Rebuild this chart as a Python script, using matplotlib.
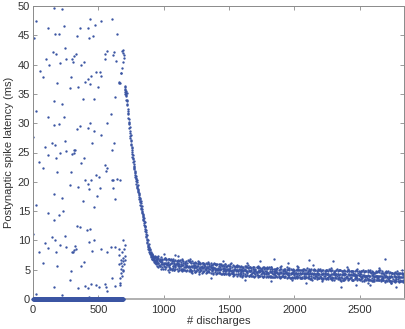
import numpy as np
import matplotlib
matplotlib.use("Agg")
import matplotlib.pyplot as plt

plt.rcParams['font.family'] = ['Liberation Sans', 'DejaVu Sans']

# early phase: scattered latencies (discharge index, latency ms)
scatter_x = [160, 224, 23, 438, 522, 604, 112, 237, 362, 420, 471, 166, 199, 336, 428, 456, 640, 8,
             245, 150, 176, 97, 120, 206, 252, 298, 306, 316, 326, 390, 369, 548, 566, 553, 617, 609,
             632, 51, 74, 484, 512, 518, 446, 290, 423, 400, 433, 183, 346, 280, 497, 624, 382, 466,
             158, 224, 23, 112, 235, 596, 163, 196, 359, 334, 438, 418, 466, 568, 522, 2, 145, 171,
             245, 453, 622, 94, 206, 250, 313, 324, 311, 298, 601, 117, 176, 388, 369, 48, 74, 548,
             566, 558, 183, 288, 479, 502, 397, 441, 420, 604, 612, 640, 667, 280, 346, 515, 430, 612,
             158, 492, 222, 629, 382, 23, 464, 232, 112, 199, 163, 334, 357, 436, 415, 2, 242, 145,
             171, 690, 469, 426, 94, 204, 250, 319, 326, 313, 303, 298, 594, 627, 655, 698, 520, 568,
             451, 48, 176, 117, 74, 388, 369, 181, 288, 601, 280, 441, 479, 502, 400, 418, 346, 548,
             556, 568, 624, 667, 158, 23, 222, 430,
             680, 686, 696, 688, 680, 675, 660, 655, 665, 690, 698, 670,
             657, 688, 703, 670, 690, 706, 657, 680, 696, 670, 686, 675, 667, 680, 692, 663, 684, 700, 672]
scatter_y = [49.7, 49.5, 47.5, 47.8, 47.5, 47.8, 46.2, 46.6, 46.3, 46.2, 46.8, 45.2, 45.3, 44.8, 44.5, 44.9, 45.3, 44.5,
             42.9, 42.1, 41.8, 41.0, 40.0, 40.3, 40.9, 40.9, 40.4, 41.5, 41.8, 40.4, 39.9, 41.8, 42.3, 41.0, 42.1, 41.6,
             40.6, 38.9, 37.8, 38.8, 38.7, 38.0, 38.1, 37.9, 37.5, 37.1, 36.7, 36.9, 36.2, 36.0, 36.1, 34.4, 34.2, 34.2,
             33.8, 33.3, 32.0, 31.0, 31.1, 31.5, 29.7, 29.9, 29.6, 29.0, 30.0, 29.2, 28.7, 30.0, 28.0, 27.7, 26.7, 26.2,
             26.9, 26.7, 26.7, 25.9, 25.0, 25.2, 25.4, 25.4, 25.0, 24.7, 25.4, 24.5, 24.0, 24.0, 23.2, 23.4, 22.4, 22.9,
             22.4, 21.8, 21.6, 21.6, 21.2, 20.9, 20.3, 20.3, 19.7, 20.3, 20.3, 20.4, 20.3, 19.5, 19.1, 18.9, 18.7, 18.9,
             17.9, 17.6, 17.3, 17.1, 16.7, 16.1, 15.7, 15.1, 14.7, 14.3, 13.5, 12.5, 12.3, 11.9, 11.8, 11.1, 10.8, 10.5,
             10.0, 10.1, 10.0, 9.7, 9.6, 9.3, 8.9, 9.1, 8.5, 8.3, 8.0, 8.1, 8.9, 8.9, 8.6, 8.5, 8.5, 8.1,
             8.2, 8.1, 8.0, 8.7, 6.1, 6.3, 5.7, 5.7, 4.7, 3.5, 3.2, 2.6, 2.4, 2.0, 2.2, 1.8, 1.9, 2.5,
             2.0, 1.4, 2.2, 2.4, 2.1, 0.85, 0.7, 0.3,
             42.3, 41.9, 41.2, 40.5, 39.4, 38.5, 37.1, 36.9, 36.8, 42.5, 41.6, 38.5,
             7.45, 7.0, 7.3, 6.6, 6.4, 6.7, 6.0, 5.6, 5.9, 5.2, 4.8, 4.4, 3.5, 4.0, 5.0, 2.7, 8.0, 9.2, 6.2]

# discharges without a postsynaptic spike (plotted at 0)
fail_x = np.arange(0, 691)

# latency decay after the transition
decay_x = np.arange(700, 947, 3)
decay_y = [36.2, 35.6, 35.9, 35.1, 34.8, 34.6, 33.9, 33.2, 32.1, 31.8, 30.9, 30.1, 29.8, 28.7, 28.4,
           27.4, 27.1, 26.3, 26.0, 25.1, 24.8, 24.0, 23.9, 23.0, 22.7, 22.3, 21.6, 21.5, 20.9, 20.6,
           20.1, 19.9, 19.3, 19.1, 18.6, 18.5, 17.9, 17.8, 17.1, 17.0, 16.5, 16.3, 15.8, 15.6, 15.1,
           14.9, 14.3, 14.1, 13.7, 13.3, 13.0, 12.5, 12.3, 11.6, 11.4, 10.8, 10.5, 10.0, 9.8, 9.3,
           9.1, 8.6, 8.7, 8.1, 8.3, 7.7, 7.9, 7.4, 7.8, 7.1, 7.5, 6.9, 7.3, 6.8, 7.2, 6.6, 7.0,
           6.5, 7.1, 6.4, 6.9, 6.3, 6.8]
decay2_x = np.arange(701, 948, 3)
decay2_y = [35.3, 36.4, 34.9, 35.5, 34.0, 35.2, 33.1, 33.8, 31.5, 32.4,
            30.2, 30.7, 29.1, 29.4, 27.8, 28.0, 26.5, 26.9, 25.4, 25.7,
            24.2, 24.6, 23.3, 23.5, 22.1, 22.6, 21.1, 21.9, 20.4, 21.0,
            19.6, 20.3, 18.9, 19.5, 18.2, 18.8, 17.4, 18.1, 16.8, 17.3,
            16.1, 16.7, 15.4, 15.9, 14.7, 15.3, 14.0, 14.5, 13.4, 13.9,
            12.7, 13.1, 11.9, 12.5, 11.1, 11.7, 10.3, 10.9, 9.6, 10.1,
            8.9, 9.4, 8.4, 8.9, 7.8, 8.5, 7.5, 8.1, 7.2, 7.6,
            6.9, 7.7, 6.6, 7.4, 6.7, 7.0, 6.3, 7.3, 6.2, 6.7,
            6.0, 7.1, 6.1]

# steady state band, every 10th discharge
band_x = np.arange(950, 2841, 10)
band_lo = [5.7, 5.4, 5.6, 5.2, 5.4, 5.6, 5.1, 5.4, 4.9, 5.4, 5.2, 5.0, 5.3, 4.9, 5.1, 5.2, 4.8, 5.0, 5.1, 4.7,
           4.9, 5.0, 4.7, 5.0, 4.8, 4.9, 4.6, 4.8, 4.9, 4.6, 4.7, 4.9, 4.6, 4.8, 4.5, 4.7, 4.8, 4.5, 4.6, 4.7,
           4.6, 4.4, 4.7, 4.5, 4.6, 4.3, 4.5, 4.6, 4.4, 4.3, 4.4, 4.2, 4.5, 4.3, 4.4, 4.1, 4.3, 4.4, 4.2, 4.1,
           4.2, 4.0, 4.3, 4.1, 4.2, 3.9, 4.1, 4.2, 4.0, 4.1, 4.0, 4.1, 3.9, 4.0, 3.8, 4.0, 4.1, 3.8, 3.9, 4.0,
           3.9, 3.8, 4.0, 3.8, 3.9, 3.7, 3.9, 4.0, 3.8, 3.7, 3.8, 3.9, 3.7, 3.8, 3.6, 3.8, 3.9, 3.7, 3.8, 3.6,
           3.7, 3.8, 3.6, 3.7, 3.5, 3.7, 3.8, 3.6, 3.7, 3.5, 3.6, 3.7, 3.5, 3.6, 3.7, 3.5, 3.6, 3.4, 3.6, 3.7,
           3.5, 3.6, 3.4, 3.6, 3.5, 3.7, 3.4, 3.5, 3.6, 3.4, 3.5, 3.4, 3.6, 3.4, 3.5, 3.3, 3.5, 3.6, 3.4, 3.5,
           3.4, 3.5, 3.3, 3.5, 3.4, 3.6, 3.3, 3.4, 3.5, 3.3, 3.3, 3.4, 3.5, 3.3, 3.4, 3.2, 3.4, 3.5, 3.3, 3.4,
           3.3, 3.2, 3.4, 3.3, 3.1, 3.3, 3.4, 3.2, 3.3, 3.2, 3.2, 3.1, 3.3, 3.2, 3.0, 3.2, 3.1, 3.3, 3.1, 3.0,
           3.1, 3.0, 3.2, 3.0, 3.1, 2.9, 3.1, 3.0, 2.9, 3.1]
band_mid = [6.5, 6.2, 6.4, 6.0, 6.3, 6.0, 6.2, 5.9, 6.1, 5.8, 5.9, 6.1, 5.7, 5.9, 5.8, 6.0, 5.6, 5.9, 5.7, 5.8,
            5.8, 5.5, 5.7, 5.6, 5.7, 5.5, 5.6, 5.4, 5.6, 5.5, 5.4, 5.6, 5.3, 5.5, 5.4, 5.3, 5.5, 5.2, 5.4, 5.3,
            5.2, 5.4, 5.3, 5.1, 5.3, 5.2, 5.0, 5.2, 5.1, 5.2, 5.1, 5.0, 5.2, 4.9, 5.0, 5.1, 4.9, 5.0, 4.8, 5.0,
            4.9, 5.0, 4.8, 4.9, 4.7, 4.9, 4.8, 4.9, 4.7, 4.8, 4.8, 4.7, 4.8, 4.6, 4.7, 4.8, 4.6, 4.7, 4.6, 4.7,
            4.7, 4.6, 4.5, 4.7, 4.6, 4.5, 4.6, 4.6, 4.5, 4.6, 4.5, 4.6, 4.4, 4.5, 4.6, 4.4, 4.5, 4.4, 4.5, 4.4,
            4.4, 4.5, 4.3, 4.4, 4.5, 4.3, 4.4, 4.3, 4.4, 4.4, 4.3, 4.4, 4.3, 4.2, 4.4, 4.3, 4.2, 4.4, 4.3, 4.3,
            4.3, 4.2, 4.3, 4.4, 4.2, 4.3, 4.2, 4.3, 4.2, 4.3, 4.2, 4.3, 4.1, 4.2, 4.3, 4.2, 4.1, 4.2, 4.3, 4.1,
            4.2, 4.1, 4.2, 4.1, 4.2, 4.0, 4.2, 4.1, 4.2, 4.1, 4.1, 4.2, 4.0, 4.1, 4.1, 4.0, 4.2, 4.0, 4.1, 4.0,
            4.0, 4.1, 3.9, 4.0, 4.1, 3.9, 4.0, 4.0, 3.9, 4.0, 3.9, 4.0, 3.9, 3.8, 4.0, 3.9, 3.8, 3.9, 3.8, 3.9,
            3.8, 3.9, 3.7, 3.8, 3.9, 3.7, 3.8, 3.7, 3.8, 3.7]
band_hi = [7.1, 7.0, 6.9, 7.2, 6.8, 6.9, 7.0, 6.7, 6.9, 6.8, 6.7, 6.6, 6.8, 6.5, 6.7, 6.4, 6.6, 6.5, 6.3, 6.6,
           6.4, 6.3, 6.5, 6.2, 6.4, 6.3, 6.1, 6.4, 6.2, 6.3, 6.2, 6.1, 6.3, 6.0, 6.2, 6.1, 5.9, 6.2, 6.0, 6.1,
           5.9, 6.1, 5.8, 6.0, 5.9, 5.8, 6.0, 5.7, 5.9, 5.8, 5.8, 5.7, 5.9, 5.6, 5.8, 5.6, 5.7, 5.5, 5.8, 5.6,
           5.6, 5.5, 5.7, 5.4, 5.6, 5.5, 5.3, 5.6, 5.4, 5.5, 5.5, 5.4, 5.3, 5.5, 5.4, 5.2, 5.4, 5.3, 5.5, 5.3,
           5.3, 5.4, 5.2, 5.3, 5.1, 5.3, 5.2, 5.4, 5.2, 5.1, 5.2, 5.1, 5.3, 5.0, 5.2, 5.1, 5.0, 5.2, 5.1, 5.0,
           5.1, 5.0, 5.2, 4.9, 5.1, 5.0, 4.9, 5.1, 5.0, 5.0, 5.0, 4.9, 5.1, 4.9, 5.0, 4.8, 5.0, 4.9, 5.1, 4.9,
           5.0, 4.9, 4.8, 5.0, 4.9, 4.8, 5.0, 4.9, 4.8, 5.0, 4.9, 4.8, 5.0, 4.8, 4.9, 4.8, 4.7, 4.9, 4.8, 4.9,
           4.9, 4.8, 4.7, 4.9, 4.8, 4.7, 4.9, 4.8, 4.7, 4.8, 4.8, 4.7, 4.9, 4.7, 4.8, 4.6, 4.8, 4.7, 4.6, 4.8,
           4.7, 4.6, 4.8, 4.6, 4.7, 4.6, 4.5, 4.7, 4.6, 4.7, 4.6, 4.5, 4.7, 4.5, 4.6, 4.4, 4.6, 4.5, 4.6, 4.4,
           4.5, 4.4, 4.6, 4.4, 4.5, 4.3, 4.5, 4.4, 4.3, 4.5]

# further steady state samples, every 20th discharge from five offsets
band_a_x = np.arange(950, 2831, 20)
band_a = [6.9, 5.6, 6.6, 5.4, 6.3, 5.2, 6.5, 5.5, 6.1, 4.9, 6.2, 5.4, 6.4, 5.0, 5.8, 4.7, 6.1, 5.3, 5.9, 4.6,
          5.7, 4.9, 6.0, 4.5, 5.5, 4.8, 5.9, 4.3, 5.3, 4.6, 5.7, 4.2, 5.1, 4.5, 5.6, 4.0, 5.0, 4.4, 5.5, 3.9,
          4.9, 4.2, 5.4, 3.8, 4.8, 4.1, 5.3, 3.7, 4.7, 4.0, 5.2, 3.6, 4.6, 3.9, 5.1, 3.5, 4.5, 3.8, 5.1, 3.4,
          4.4, 3.7, 5.0, 3.4, 4.4, 3.6, 4.9, 3.3, 4.3, 3.6, 4.9, 3.2, 4.2, 3.5, 4.8, 3.2, 4.1, 3.4, 4.7, 3.1,
          4.0, 3.3, 4.6, 3.0, 3.9, 3.2, 4.5, 2.9, 3.8, 3.1, 4.4, 2.9, 3.7, 3.0, 4.3]
band_b_x = np.arange(954, 2835, 20)
band_b = [6.2, 6.4, 5.9, 6.2, 5.8, 6.1, 5.7, 6.0, 5.6, 5.9, 5.5, 5.8, 5.5, 5.7, 5.3, 5.6, 5.2, 5.6, 5.1, 5.5,
          5.1, 5.4, 5.0, 5.3, 4.9, 5.3, 4.8, 5.2, 4.8, 5.1, 4.7, 5.1, 4.6, 5.0, 4.6, 4.9, 4.5, 4.9, 4.4, 4.8,
          4.4, 4.8, 4.3, 4.7, 4.3, 4.7, 4.2, 4.6, 4.2, 4.6, 4.1, 4.5, 4.1, 4.5, 4.1, 4.4, 4.0, 4.4, 4.0, 4.4,
          4.0, 4.4, 3.9, 4.3, 3.9, 4.3, 3.9, 4.3, 3.8, 4.2, 3.8, 4.2, 3.8, 4.2, 3.7, 4.1, 3.7, 4.1, 3.7, 4.0,
          3.6, 4.0, 3.6, 3.9, 3.5, 3.9, 3.5, 3.8, 3.4, 3.8, 3.4, 3.7, 3.4, 3.7, 3.3]
band_c_x = np.arange(958, 2839, 20)
band_c = [7.3, 6.3, 5.2, 6.8, 5.8, 6.8, 5.0, 6.2, 5.3, 6.8, 5.0, 5.7, 6.4, 4.5, 5.8, 5.1, 6.1, 4.6, 5.6, 6.3,
          5.4, 4.3, 5.9, 5.0, 6.0, 4.2, 5.5, 4.5, 6.1, 4.3, 4.9, 5.7, 3.8, 5.1, 4.4, 5.4, 3.9, 4.9, 5.7, 4.8,
          3.7, 5.3, 4.4, 5.5, 3.7, 5.0, 4.0, 5.6, 3.8, 4.5, 5.3, 3.3, 4.7, 4.0, 5.0, 3.6, 4.5, 5.3, 4.4, 3.3,
          5.0, 4.1, 5.2, 3.4, 4.7, 3.8, 5.3, 3.5, 4.2, 5.0, 3.1, 4.5, 3.8, 4.8, 3.3, 4.3, 5.1, 4.2, 3.1, 4.8,
          3.9, 4.9, 3.1, 4.4, 3.5, 5.0, 3.2, 3.9, 4.7, 2.8, 4.2, 3.4, 4.4, 3.0, 4.0]
band_d_x = np.arange(962, 2843, 20)
band_d = [5.8, 6.7, 6.2, 5.8, 6.8, 5.1, 6.1, 6.4, 5.6, 5.1, 6.1, 6.6, 5.2, 5.7, 4.6, 6.0, 5.5, 6.1, 4.9, 4.7,
          5.8, 5.3, 4.9, 6.0, 4.3, 5.3, 5.7, 4.8, 4.4, 5.4, 5.8, 4.5, 5.0, 3.9, 5.3, 4.8, 5.4, 4.2, 4.1, 5.2,
          4.6, 4.3, 5.4, 3.8, 4.8, 5.2, 4.3, 3.9, 4.9, 5.4, 4.1, 4.5, 3.5, 4.9, 4.4, 5.1, 3.8, 3.7, 4.8, 4.3,
          4.0, 5.1, 3.5, 4.5, 4.9, 4.0, 3.6, 4.6, 5.1, 3.8, 4.3, 3.3, 4.7, 4.1, 4.8, 3.6, 3.5, 4.6, 4.1, 3.8,
          4.9, 3.2, 4.2, 4.6, 3.8, 3.4, 4.3, 4.8, 3.5, 4.0, 3.0, 4.3, 3.8, 4.5, 3.3]
band_e_x = np.arange(966, 2847, 20)
band_e = [6.7, 5.9, 7.0, 6.0, 5.3, 6.5, 5.6, 5.8, 6.7, 5.2, 5.9, 5.5, 4.7, 6.2, 5.5, 6.5, 4.9, 5.8, 5.3, 5.6,
          4.9, 6.1, 5.1, 4.5, 5.6, 4.8, 5.1, 5.9, 4.5, 5.2, 4.7, 4.0, 5.5, 4.8, 5.8, 4.2, 5.1, 4.6, 5.0, 4.3,
          5.5, 4.5, 3.9, 5.1, 4.3, 4.6, 5.4, 4.0, 4.7, 4.3, 3.6, 5.0, 4.4, 5.4, 3.8, 4.8, 4.2, 4.6, 3.9, 5.1,
          4.2, 3.6, 4.8, 4.0, 4.3, 5.2, 3.7, 4.4, 4.0, 3.3, 4.8, 4.2, 5.2, 3.6, 4.5, 4.0, 4.4, 3.7, 4.9, 4.0,
          3.4, 4.5, 3.7, 4.0, 4.9, 3.5, 4.1, 3.7, 3.0, 4.5, 3.9, 4.8, 3.2, 4.2, 3.7]

# stray points around the band
out_x = [1086, 1111, 1842, 2296, 2691, 2487, 1358, 2357, 1621, 2092, 2576, 2780, 1455, 1634, 1735,
         2143, 2113, 1817, 2469, 1952, 2564, 1005, 1040, 1200, 1270, 1530, 2020, 2210, 2650, 2820, 2400, 2740]
out_y = [7.5, 7.3, 6.9, 6.5, 6.8, 6.1, 3.6, 2.0, 3.2, 2.7, 2.4, 2.1, 6.4, 6.2, 6.4,
         5.8, 6.7, 3.0, 2.4, 6.2, 2.7, 7.6, 4.6, 6.8, 4.3, 3.9, 5.6, 3.0, 5.3, 5.0, 5.4, 2.8]

blue = '#3b55a3'
grey = '#8a8a8a'
txt = '#333333'

fig = plt.figure(figsize=(4.06, 3.29), dpi=100)
ax = fig.add_axes([33 / 406, 30 / 329, 371 / 406, 293 / 329])

kw = dict(ls='none', marker='o', ms=1.7, mew=0, color=blue)
ax.plot(scatter_x, scatter_y, **kw)
ax.plot(decay_x, decay_y, **kw)
ax.plot(decay2_x, decay2_y, **kw)
for band in (band_lo, band_mid, band_hi):
    ax.plot(band_x, band, **kw)
for bx, by in ((band_a_x, band_a), (band_b_x, band_b), (band_c_x, band_c),
               (band_d_x, band_d), (band_e_x, band_e)):
    ax.plot(bx, by, **kw)
ax.plot(out_x, out_y, **kw)
ax.plot(fail_x, np.zeros(len(fail_x)), ls='none', marker='o', ms=2.6, mew=0,
        color=blue, clip_on=False, zorder=5)

ax.set_xlim(0, 2838)
ax.set_ylim(0, 50)
ax.set_xticks([0, 500, 1000, 1500, 2000, 2500])
ax.set_yticks(np.arange(0, 51, 5))
ax.tick_params(direction='in', length=3, width=0.6, color=grey, labelsize=8,
               labelcolor=txt, top=True, right=True, pad=2)
ax.tick_params(axis='x', pad=4)
for s in ax.spines.values():
    s.set_color(grey)
    s.set_linewidth(0.7)
ax.spines['bottom'].set_color('#b0b0b0')
ax.spines['bottom'].set_linewidth(1.4)

ax.set_xlabel('# discharges', fontsize=8, color=txt, labelpad=1)
ax.set_ylabel('Postynaptic spike latency (ms)', fontsize=8, color=txt, labelpad=3)

fig.savefig('out.png', dpi=100)
